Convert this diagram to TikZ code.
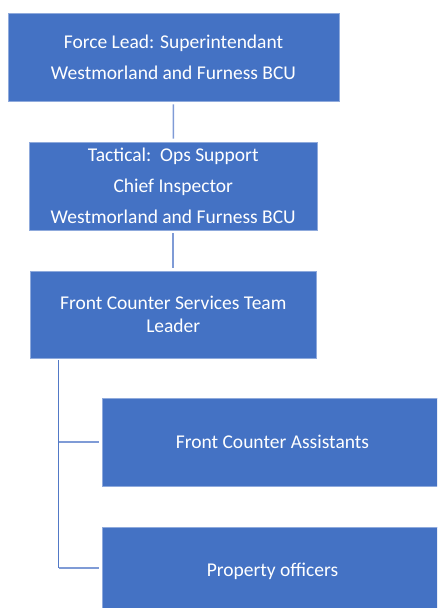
\documentclass[tikz,border=0pt]{standalone}
\usepackage{fontspec}
\setmainfont{Carlito}
\usepackage{xcolor}
\usepackage{tikz}
\usetikzlibrary{positioning}

\definecolor{boxblue}{HTML}{4472C4}
\definecolor{boxedge}{HTML}{8FAADC}
\definecolor{linkblue}{HTML}{7F9BD6}
\definecolor{spineblue}{HTML}{5279C6}

\tikzset{
  post/.style={rectangle, fill=boxblue, draw=boxedge, line width=0.6pt,
    text=white, align=center, inner sep=0pt},
  bigpost/.style={post, font=\fontsize{19.5}{31}\selectfont},
  smallpost/.style={post, font=\fontsize{19.5}{22.5}\selectfont},
  link/.style={draw=linkblue, line width=1.6pt, shorten <=3pt, shorten >=3pt}
}

\begin{document}
\begin{tikzpicture}[x=1pt,y=-1pt]
    \useasboundingbox (0,0) rectangle (437,608);
    \clip (0,0) rectangle (437,608);
    \node[bigpost, minimum width=331, minimum height=88] (lead) at (173.5,57)
      {Force Lead: Superintendant\\Westmorland and Furness BCU};
    \node[bigpost, minimum width=287.5, minimum height=88] (tactical) at (173.25,186)
      {Tactical:\ \ Ops Support\\Chief Inspector\\Westmorland and Furness BCU};
    \node[smallpost, minimum width=285.5, minimum height=87] (fcs) at (173.25,314.5)
      {Front Counter Services Team\\Leader};
    \node[smallpost, minimum width=340, minimum height=88] (fca) at (272.5,442)
      {Front Counter Assistants};
    \node[smallpost, minimum width=340, minimum height=88] (prop) at (272.5,571)
      {Property officers};
    % chain of command
    \path[link] (lead) -- (tactical);
    \path[link] (tactical) -- (fcs);
    % team spine and its branches
    \coordinate (top) at (58.5,360);
    \coordinate (foot) at (58.5,568);
    \draw[spineblue, line width=1.8pt] (top) -- (foot);
    \draw[linkblue, line width=1.6pt, shorten >=3pt] (top |- fca.west) -- (fca.west);
    \draw[linkblue, line width=1.6pt, shorten >=3pt] (foot) -- (foot -| prop.west);
\end{tikzpicture}
\end{document}
